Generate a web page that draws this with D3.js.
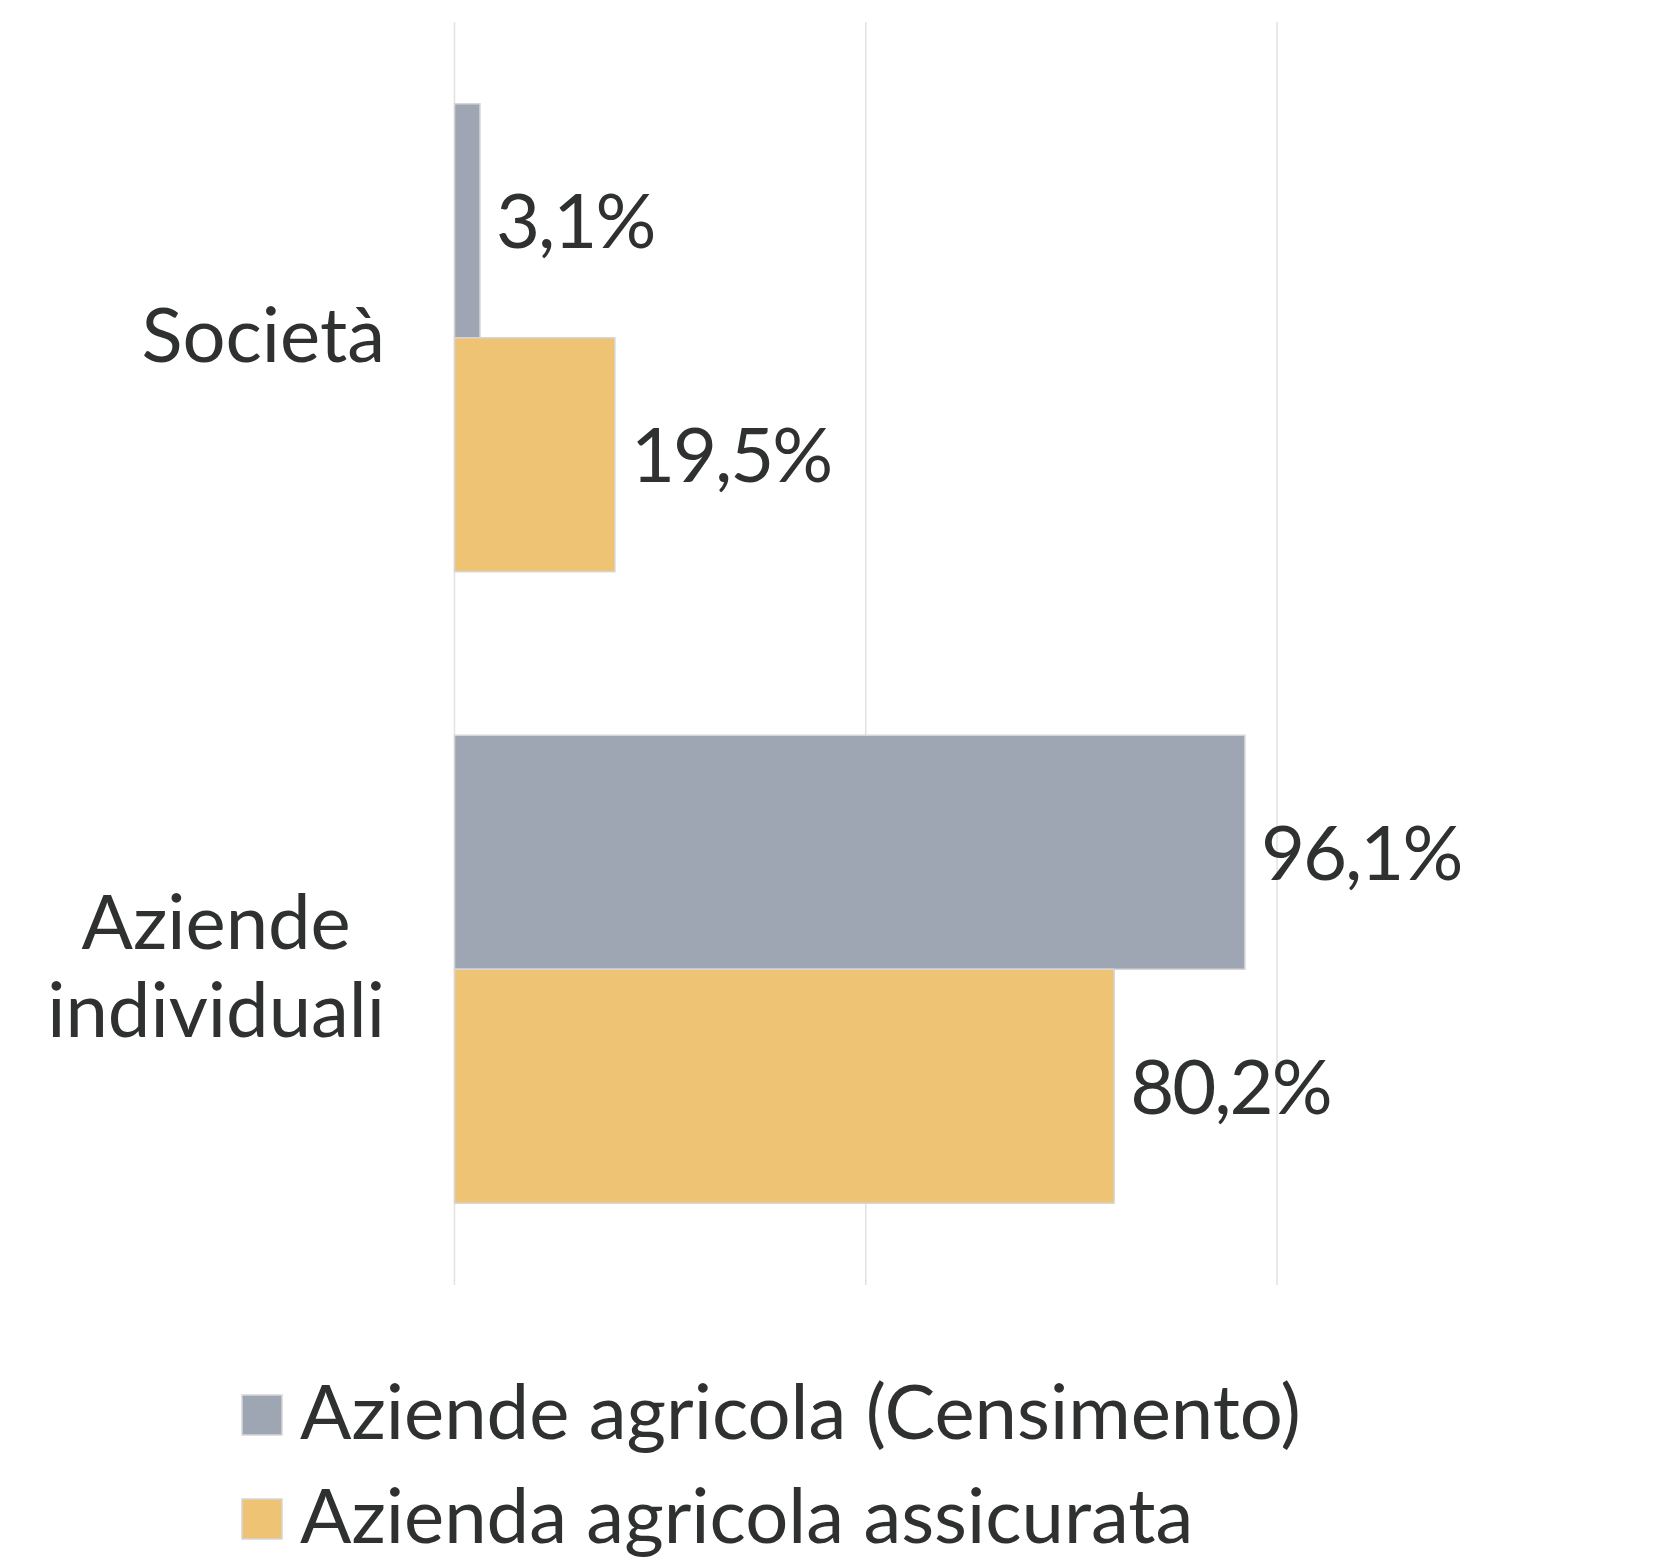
<!DOCTYPE html>
<html><head><meta charset="utf-8">
<script src="https://cdn.jsdelivr.net/npm/d3@7"></script>
<style>body{margin:0;background:#fff}</style>
</head><body>
<svg id="chart" width="1665" height="1559"></svg>
<script>
// ---- data ----
const categories = ["Società", "Aziende individuali"];
const seriesNames = ["Aziende agricola (Censimento)", "Azienda agricola assicurata"];
const censimento = [3.1, 96.1];
const assicurata = [19.5, 80.2];
const gridTicks = [0, 50, 100];

const colors = ["#9ea5b3", "#eec373"];
const textColor = "#2f3131";
const font = "Lato";
const fontSize = 76;

const svg = d3.select("#chart");
const plot = {left: 454.5, right: 1277, top: 22, bottom: 1285};

const x = d3.scaleLinear().domain([0, 100]).range([plot.left, plot.right]);
const y0 = d3.scaleBand().domain(categories).range([plot.top, plot.bottom])
  .paddingInner(0.259).paddingOuter(0.1295);
const y1 = d3.scaleBand().domain(seriesNames).range([0, y0.bandwidth()]);

// gridlines
svg.append("g").selectAll("line").data(gridTicks).join("line")
  .attr("x1", d => x(d)).attr("x2", d => x(d))
  .attr("y1", plot.top).attr("y2", plot.bottom)
  .attr("stroke", "#e2e2e2").attr("stroke-width", 1.5);

const rows = categories.map((c, i) => ({cat: c, vals: [censimento[i], assicurata[i]]}));

const groups = svg.append("g").selectAll("g").data(rows).join("g")
  .attr("transform", d => `translate(0,${y0(d.cat)})`);

groups.selectAll("rect").data(d => d.vals.map((v, j) => ({v, s: seriesNames[j], j})))
  .join("rect")
  .attr("x", x(0))
  .attr("y", d => y1(d.s))
  .attr("width", d => x(d.v) - x(0))
  .attr("height", y1.bandwidth())
  .attr("fill", d => colors[d.j])
  .attr("stroke", "#d6d6d6").attr("stroke-width", 1.5);

const fmt = v => v.toFixed(1).replace(".", ",") + "%";
groups.selectAll("text.val").data(d => d.vals.map((v, j) => ({v, s: seriesNames[j]})))
  .join("text").attr("class", "val")
  .attr("x", d => x(d.v) + 16)
  .attr("y", d => y1(d.s) + y1.bandwidth() / 2)
  .attr("dy", "0.36em")
  .attr("font-family", font).attr("font-size", fontSize)
  .attr("letter-spacing", -2)
  .attr("fill", textColor)
  .text(d => fmt(d.v));

// category labels (wrapped, lines centred, block right-aligned)
const labelRight = 385;
const lineH = 88;
rows.forEach(r => {
  const words = r.cat.split(" ");
  const cy = y0(r.cat) + y0.bandwidth() / 2;
  const t = svg.append("text")
    .attr("font-family", font).attr("font-size", fontSize)
    .attr("fill", textColor).attr("text-anchor", "middle");
  const spans = words.map((w, k) => t.append("tspan").text(w));
  const maxW = d3.max(spans, s => s.node().getComputedTextLength());
  const cx = labelRight - maxW / 2;
  const n = words.length;
  spans.forEach((s, k) => {
    s.attr("x", cx).attr("y", cy + 24 + (k - (n - 1) / 2) * lineH);
  });
});

// legend
const legY = [1415, 1519];
const leg = svg.append("g").selectAll("g").data(seriesNames).join("g")
  .attr("transform", (d, i) => `translate(242,${legY[i]})`);
leg.append("rect").attr("x", 0).attr("y", -20).attr("width", 40).attr("height", 40)
  .attr("fill", (d, i) => colors[i]).attr("stroke", "#d6d6d6").attr("stroke-width", 1.5);
leg.append("text").attr("x", 58).attr("y", 24)
  .attr("font-family", font).attr("font-size", fontSize)
  .attr("fill", textColor).text(d => d);
</script>
</body></html>
